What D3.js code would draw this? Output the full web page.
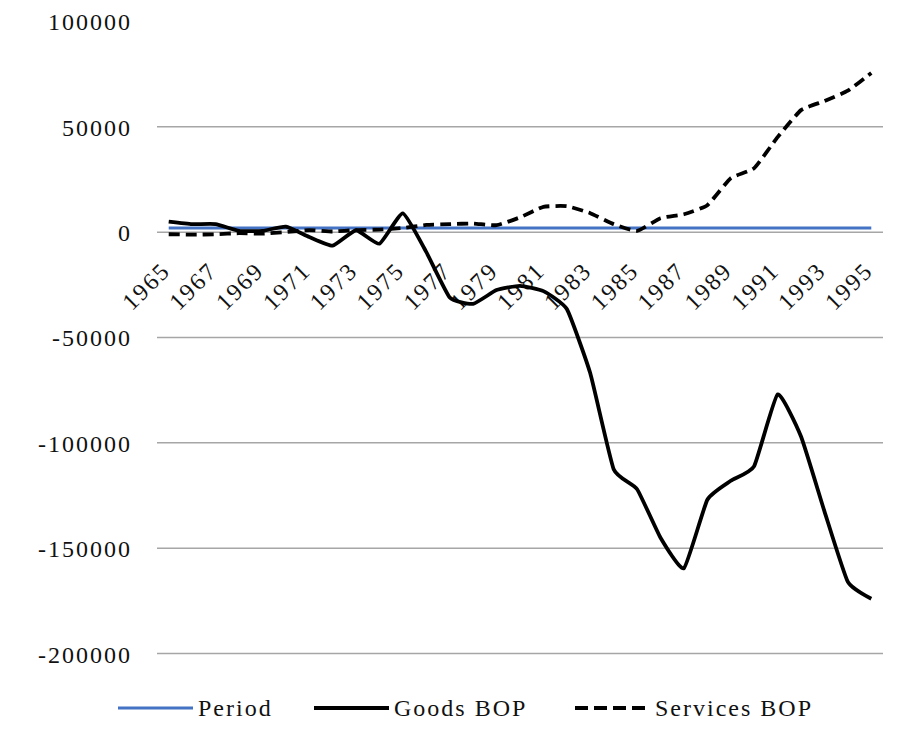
<!DOCTYPE html>
<html lang="en">
<head>
<meta charset="UTF-8">
<script src="https://d3js.org/d3.v7.min.js"></script>
<style>
  body { margin: 0; background: #fff; }
  text { font-family: "Liberation Serif", "Times New Roman", serif; font-size: 24px; letter-spacing: 2px; fill: #111; }
  .grid line { stroke: #a6a6a6; stroke-width: 1.5; }
</style>
</head>
<body>
<svg width="907" height="742"></svg>
<script>
// years on the category axis
var years = d3.range(1965, 1996);
var yTicks = [100000, 50000, 0, -50000, -100000, -150000, -200000];

// series values
var period = years.map(function () { return 2000; });
var goodsBOP = [5000, 3800, 3800, 600, 600, 2600, -2300, -6400, 900, -5500,
  8900, -9500, -31000, -34000, -27500, -25500, -28000, -36500, -67000, -112500,
  -122000, -145000, -159500, -127000, -118000, -111000, -77000, -97000, -132500, -166000,
  -174000];
var servicesBOP = [-1000, -1200, -1000, -500, -700, 0, 1000, 300, 1000, 1200,
  2000, 3400, 3800, 4100, 3300, 7000, 12000, 12300, 9000, 3800,
  600, 6600, 8500, 12800, 25600, 30400, 45100, 57900, 62200, 67100,
  75500];

var svg = d3.select("svg");
var left = 157, right = 883;

var x = d3.scaleBand().domain(years).range([left, right]);
var cx = function (yr) { return x(yr) + x.bandwidth() / 2; };
var y = d3.scaleLinear().domain([-200000, 100000]).range([653.6, 21.4]);

// gridlines (none drawn at the top value)
var grid = svg.append("g").attr("class", "grid");
grid.selectAll("line")
  .data(yTicks.filter(function (d) { return d < 100000; }))
  .enter().append("line")
  .attr("x1", left).attr("x2", right)
  .attr("y1", function (d) { return y(d); })
  .attr("y2", function (d) { return y(d); });

// y axis labels, plain hyphen for the minus
svg.append("g").attr("transform", "translate(132,0)")
  .call(d3.axisLeft(y).tickValues(yTicks).tickSize(0).tickPadding(0)
    .tickFormat(function (d) { return String(d); }))
  .call(function (g) { g.select(".domain").remove(); })
  .selectAll("text")
  .style("font-family", "Liberation Serif, serif")
  .style("font-size", "24px")
  .attr("dy", "0.35em");

// x axis labels, every other year, rotated
svg.append("g").selectAll("text")
  .data(years.filter(function (d) { return (d - 1965) % 2 === 0; }))
  .enter().append("text")
  .attr("text-anchor", "end")
  .attr("transform", function (d) { return "translate(" + (cx(d) + 3) + ",272) rotate(-45)"; })
  .text(function (d) { return d; });

var line = d3.line()
  .x(function (d, i) { return cx(years[i]); })
  .y(function (d) { return y(d); })
  .curve(d3.curveCardinal.tension(0.55));

svg.append("path").datum(period)
  .attr("d", line)
  .attr("fill", "none").attr("stroke", "#4472c4").attr("stroke-width", 3);

svg.append("path").datum(goodsBOP)
  .attr("d", line)
  .attr("fill", "none").attr("stroke", "#000").attr("stroke-width", 3.8)
  .attr("stroke-linejoin", "round");

svg.append("path").datum(servicesBOP)
  .attr("d", line)
  .attr("fill", "none").attr("stroke", "#000").attr("stroke-width", 3.8)
  .attr("stroke-dasharray", "11,6");

// legend
var legend = [
  { name: "Period", x: 118, color: "#4472c4", w: 3, dash: null },
  { name: "Goods BOP", x: 314, color: "#000", w: 4, dash: null },
  { name: "Services BOP", x: 575, color: "#000", w: 4, dash: "13,6" }
];
var lg = svg.append("g").selectAll("g").data(legend).enter().append("g")
  .attr("transform", function (d) { return "translate(" + d.x + ",708)"; });
lg.append("line")
  .attr("x1", 0).attr("x2", 75).attr("y1", 0).attr("y2", 0)
  .attr("stroke", function (d) { return d.color; })
  .attr("stroke-width", function (d) { return d.w; })
  .attr("stroke-dasharray", function (d) { return d.dash; });
lg.append("text")
  .attr("x", 80).attr("dy", "0.35em")
  .text(function (d) { return d.name; });
</script>
</body>
</html>
